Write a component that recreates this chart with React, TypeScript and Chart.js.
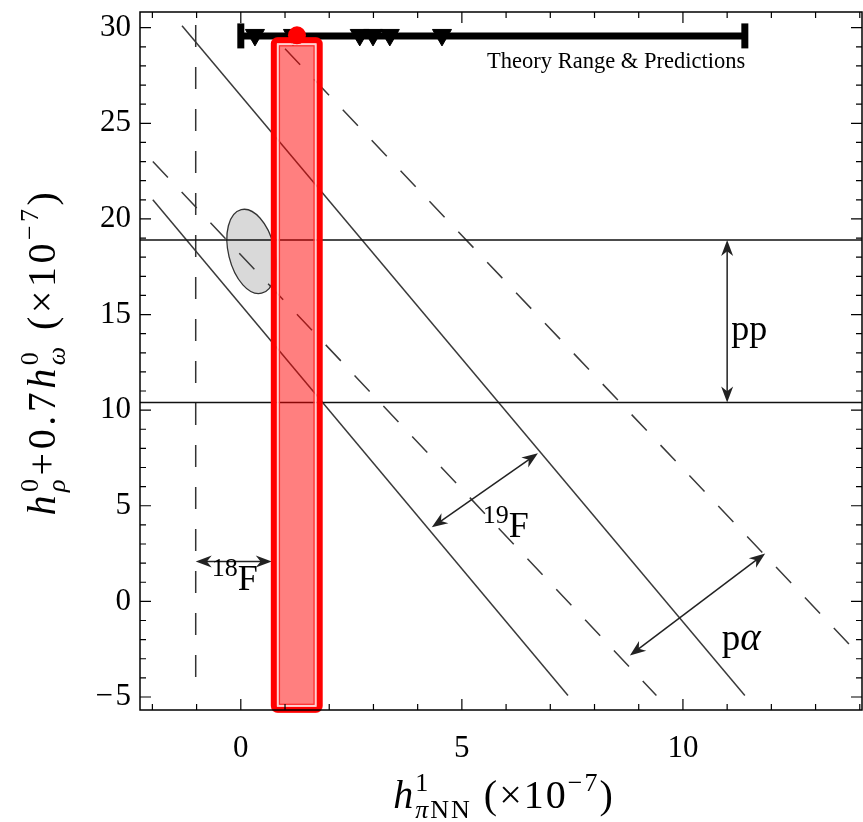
import React, { useEffect, useRef } from "react";
import { Chart, registerables } from "chart.js";

Chart.register(...registerables);

// ---- axis ranges & ticks ----
const X_MIN = -2.28;
const X_MAX = 14.05;
const Y_MIN = -5.68;
const Y_MAX = 30.82;
const xMajorTicks = [0, 5, 10];
const xMinorTicks = [-2, -1, 1, 2, 3, 4, 6, 7, 8, 9, 11, 12, 13, 14];
const yMajorTicks = [-5, 0, 5, 10, 15, 20, 25, 30];
const yMinorTicks = [-4, -3, -2, -1, 1, 2, 3, 4, 6, 7, 8, 9, 11, 12, 13, 14, 16, 17, 18, 19, 21, 22, 23, 24, 26, 27, 28, 29];

// ---- constraint lines ----
const ppLimits = [18.9, 10.4];
const f18Limit = [
  { x: -1.02, y: -3.95 },
  { x: -1.02, y: 30.6 },
];
const f19Lower = [
  { x: -1.99, y: 21.0 },
  { x: 7.4, y: -4.92 },
];
const f19Upper = [
  { x: -1.33, y: 30.1 },
  { x: 11.4, y: -4.92 },
];
const pAlphaLower = [
  { x: -1.99, y: 23.0 },
  { x: 9.4, y: -4.92 },
];
const pAlphaUpper = [
  { x: 1.0, y: 28.9 },
  { x: 14.0, y: -2.83 },
];

// ---- theory range & predictions ----
const theoryRange = [
  { x: 0, y: 29.57 },
  { x: 11.4, y: 29.57 },
];
const predictionsX = [0.32, 1.18, 2.69, 2.99, 3.37, 4.55];
const predictionY = 29.62;

// ---- measurement band (red) ----
const bandX = [0.68, 1.85];
const bandY = [-5.83, 29.5];
const bandPoint = { x: 1.27, y: 29.6 };

// ---- error ellipse ----
const ellipseCenter = { x: 0.24, y: 18.3 };
const ellipseSemiAxes = { x: 0.52, y: 2.25 };
const ellipseTilt = -0.24;

// ---- arrows ----
const ppArrow = [
  { x: 11.0, y: 18.9 },
  { x: 11.0, y: 10.4 },
];
const f18Arrow = [
  { x: -1.02, y: 2.09 },
  { x: 0.7, y: 2.09 },
];
const f19Arrow = [
  { x: 4.32, y: 3.87 },
  { x: 6.72, y: 7.74 },
];
const pAlphaArrow = [
  { x: 8.8, y: -2.83 },
  { x: 11.86, y: 2.51 },
];

// ---- labels (anchor = left baseline) ----
const labelPP = { x: 11.09, y: 13.66 };
const labelF19 = { x: 5.47, y: 3.35 };
const labelF18 = { x: -0.66, y: 0.58 };
const labelPA = { x: 10.88, y: -2.56 };
const labelTheory = { x: 5.57, y: 27.9 };

const SERIF = "'Liberation Serif', 'DejaVu Serif', serif";

type Part = { t: string; size: number; italic?: boolean; dy?: number; stack?: boolean };

function richWidth(ctx: CanvasRenderingContext2D, parts: Part[]) {
  let x = 0;
  let lastStart = 0;
  let lastW = 0;
  for (const p of parts) {
    ctx.font = `${p.italic ? "italic " : ""}${p.size}px ${SERIF}`;
    const w = ctx.measureText(p.t).width;
    if (p.stack) {
      x = lastStart + Math.max(lastW, w);
      lastW = Math.max(lastW, w);
    } else {
      lastStart = x;
      lastW = w;
      x += w;
    }
  }
  return x;
}

function drawRich(ctx: CanvasRenderingContext2D, parts: Part[], x0: number, y0: number, align: "left" | "center") {
  const total = richWidth(ctx, parts);
  let x = align === "center" ? x0 - total / 2 : x0;
  let lastStart = x;
  let lastW = 0;
  ctx.textAlign = "left";
  ctx.textBaseline = "alphabetic";
  ctx.fillStyle = "#000";
  for (const p of parts) {
    ctx.font = `${p.italic ? "italic " : ""}${p.size}px ${SERIF}`;
    const w = ctx.measureText(p.t).width;
    if (p.stack) {
      ctx.fillText(p.t, lastStart, y0 + (p.dy || 0));
      x = lastStart + Math.max(lastW, w);
      lastW = Math.max(lastW, w);
    } else {
      ctx.fillText(p.t, x, y0 + (p.dy || 0));
      lastStart = x;
      lastW = w;
      x += w;
    }
  }
}

function arrowHead(ctx: CanvasRenderingContext2D, tipX: number, tipY: number, ang: number) {
  const L = 16;
  const W = 6;
  const bx = tipX - L * Math.cos(ang);
  const by = tipY - L * Math.sin(ang);
  const nx = -Math.sin(ang);
  const ny = Math.cos(ang);
  const mx = tipX - L * 0.7 * Math.cos(ang);
  const my = tipY - L * 0.7 * Math.sin(ang);
  ctx.beginPath();
  ctx.moveTo(tipX, tipY);
  ctx.lineTo(bx + nx * W, by + ny * W);
  ctx.lineTo(mx, my);
  ctx.lineTo(bx - nx * W, by - ny * W);
  ctx.closePath();
  ctx.fill();
}

const decorPlugin = {
  id: "decor",
  beforeDatasetsDraw(chart: any) {
    const { ctx, scales } = chart;
    const xs = scales.x;
    const ys = scales.y;
    const cx = xs.getPixelForValue(ellipseCenter.x);
    const cy = ys.getPixelForValue(ellipseCenter.y);
    const rx = Math.abs(xs.getPixelForValue(ellipseCenter.x + ellipseSemiAxes.x) - cx);
    const ry = Math.abs(ys.getPixelForValue(ellipseCenter.y + ellipseSemiAxes.y) - cy);
    ctx.save();
    ctx.beginPath();
    ctx.ellipse(cx, cy, rx, ry, ellipseTilt, 0, Math.PI * 2);
    ctx.fillStyle = "#d9d9d9";
    ctx.fill();
    ctx.lineWidth = 1.3;
    ctx.strokeStyle = "#333";
    ctx.stroke();
    ctx.restore();
  },
  afterDatasetsDraw(chart: any) {
    const { ctx, scales, chartArea } = chart;
    const xs = scales.x;
    const ys = scales.y;
    const px = (v: number) => xs.getPixelForValue(v);
    const py = (v: number) => ys.getPixelForValue(v);

    ctx.save();
    // arrows
    ctx.strokeStyle = "#222";
    ctx.fillStyle = "#222";
    ctx.lineWidth = 1.5;
    for (const a of [ppArrow, f18Arrow, f19Arrow, pAlphaArrow]) {
      const x1 = px(a[0].x), y1 = py(a[0].y), x2 = px(a[1].x), y2 = py(a[1].y);
      const ang = Math.atan2(y2 - y1, x2 - x1);
      ctx.beginPath();
      ctx.moveTo(x1 + 8 * Math.cos(ang), y1 + 8 * Math.sin(ang));
      ctx.lineTo(x2 - 8 * Math.cos(ang), y2 - 8 * Math.sin(ang));
      ctx.stroke();
      arrowHead(ctx, x2, y2, ang);
      arrowHead(ctx, x1, y1, ang + Math.PI);
    }

    // texts
    drawRich(ctx, [{ t: "pp", size: 36 }], px(labelPP.x), py(labelPP.y), "left");
    drawRich(ctx, [{ t: "19", size: 26, dy: -14 }, { t: "F", size: 36 }], px(labelF19.x), py(labelF19.y), "left");
    drawRich(ctx, [{ t: "18", size: 26, dy: -14 }, { t: "F", size: 36 }], px(labelF18.x), py(labelF18.y), "left");
    drawRich(ctx, [{ t: "p", size: 37 }, { t: "\u03B1", size: 39, italic: true }], px(labelPA.x), py(labelPA.y), "left");
    drawRich(ctx, [{ t: "Theory Range & Predictions", size: 22.5 }], px(labelTheory.x), py(labelTheory.y), "left");

    // red measurement band
    const L = px(bandX[0]), R = px(bandX[1]), T = py(bandY[1]), B = py(bandY[0]);
    ctx.fillStyle = "rgba(255,0,0,0.5)";
    ctx.beginPath();
    ctx.roundRect(L, T, R - L, B - T, 6);
    ctx.fill();
    ctx.strokeStyle = "#ff0000";
    ctx.lineWidth = 6;
    ctx.beginPath();
    ctx.roundRect(L + 3, T + 3, R - L - 6, B - T - 6, 4);
    ctx.stroke();
    ctx.strokeStyle = "rgba(255,215,215,0.95)";
    ctx.lineWidth = 2;
    ctx.strokeRect(L + 7, T + 7, R - L - 14, B - T - 14);
    ctx.strokeStyle = "#ff2a2a";
    ctx.lineWidth = 1.2;
    ctx.strokeRect(L + 8.6, T + 8.6, R - L - 17.2, B - T - 17.2);

    // central point
    ctx.fillStyle = "#ff0000";
    ctx.beginPath();
    ctx.arc(px(bandPoint.x), py(bandPoint.y), 9, 0, Math.PI * 2);
    ctx.fill();

    // frame
    const { left, right, top, bottom } = chartArea;
    ctx.strokeStyle = "#000";
    ctx.lineWidth = 1.5;
    ctx.strokeRect(left, top, right - left, bottom - top);
    ctx.lineWidth = 1.2;
    ctx.beginPath();
    const tickX = (v: number, len: number) => {
      const x = px(v);
      ctx.moveTo(x, bottom);
      ctx.lineTo(x, bottom - len);
      ctx.moveTo(x, top);
      ctx.lineTo(x, top + len);
    };
    const tickY = (v: number, len: number) => {
      const y = py(v);
      ctx.moveTo(left, y);
      ctx.lineTo(left + len, y);
      ctx.moveTo(right, y);
      ctx.lineTo(right - len, y);
    };
    xMajorTicks.forEach((v) => tickX(v, 11));
    xMinorTicks.forEach((v) => tickX(v, 6));
    yMajorTicks.forEach((v) => tickY(v, 11));
    yMinorTicks.forEach((v) => tickY(v, 6));
    ctx.stroke();

    // axis titles
    const xTitle: Part[] = [
      { t: "h", size: 40, italic: true },
      { t: "1", size: 26, dy: -17 },
      { t: "\u03C0", size: 26, italic: true, dy: 10, stack: true },
      { t: "NN", size: 26, dy: 10 },
      { t: " (\u00D710", size: 40 },
      { t: "\u22127", size: 26, dy: -17 },
      { t: ")", size: 40 },
    ];
    (ctx as any).letterSpacing = "2px";
    drawRich(ctx, xTitle, 504, 808, "center");

    const yTitle: Part[] = [
      { t: "h", size: 40, italic: true },
      { t: "0", size: 26, dy: -17 },
      { t: "\u03C1", size: 26, italic: true, dy: 10, stack: true },
      { t: "+0.7", size: 40 },
      { t: "h", size: 40, italic: true },
      { t: "0", size: 26, dy: -17 },
      { t: "\u03C9", size: 26, italic: true, dy: 10, stack: true },
      { t: " (\u00D710", size: 40 },
      { t: "\u22127", size: 26, dy: -17 },
      { t: ")", size: 40 },
    ];
    (ctx as any).letterSpacing = "3.5px";
    ctx.translate(55, 352);
    ctx.rotate(-Math.PI / 2);
    drawRich(ctx, yTitle, 0, 0, "center");
    (ctx as any).letterSpacing = "0px";
    ctx.restore();
  },
};

const fmt = (v: number) => (v < 0 ? "\u2212\u200A" + Math.abs(v) : String(v));

export default function App() {
  const ref = useRef<HTMLCanvasElement | null>(null);
  useEffect(() => {
    if (!ref.current) return;
    const line = (data: any[], dashed: boolean, color = "#3a3a3a", width = 1.5) => ({
      type: "line",
      data,
      borderColor: color,
      borderWidth: width,
      borderDash: dashed ? [22, 20] : [],
      pointRadius: 0,
      showLine: true,
      fill: false,
    });
    const chart = new Chart(ref.current, {
      type: "scatter",
      data: {
        datasets: [
          line([{ x: X_MIN, y: ppLimits[0] }, { x: X_MAX, y: ppLimits[0] }], false, "#111", 1.5),
          line([{ x: X_MIN, y: ppLimits[1] }, { x: X_MAX, y: ppLimits[1] }], false, "#111", 1.5),
          line(f18Limit, true, "#333", 1.5),
          line(f19Lower, false),
          line(f19Upper, false),
          line(pAlphaLower, true),
          line(pAlphaUpper, true),
          {
            type: "line",
            data: theoryRange,
            borderColor: "#000",
            borderWidth: 7,
            showLine: true,
            pointStyle: "line",
            rotation: 90,
            pointRadius: 12.5,
            pointBorderWidth: 7,
            pointBorderColor: "#000",
            clip: false,
          },
          {
            type: "scatter",
            data: predictionsX.map((x) => ({ x, y: predictionY })),
            pointStyle: "triangle",
            rotation: 180,
            pointRadius: 11,
            backgroundColor: "#000",
            borderColor: "#000",
            borderWidth: 1,
            clip: false,
          },
        ] as any,
      },
      options: {
        animation: false,
        responsive: false,
        devicePixelRatio: 1,
        events: [],
        layout: { autoPadding: false, padding: { top: 12, right: 1, left: 0, bottom: 0 } },
        plugins: { legend: { display: false }, tooltip: { enabled: false } },
        scales: {
          x: {
            type: "linear",
            min: X_MIN,
            max: X_MAX,
            afterBuildTicks: (s: any) => {
              s.ticks = xMajorTicks.map((v) => ({ value: v }));
            },
            afterFit: (s: any) => {
              s.height = 112;
              s.paddingLeft = 0;
              s.paddingRight = 0;
            },
            grid: { display: false, drawTicks: false },
            border: { display: false },
            ticks: {
              autoSkip: false,
              maxRotation: 0,
              padding: 20,
              color: "#000",
              font: { family: SERIF, size: 31 },
              callback: (v: any) => fmt(Number(v)),
            },
          },
          y: {
            type: "linear",
            min: Y_MIN,
            max: Y_MAX,
            afterBuildTicks: (s: any) => {
              s.ticks = yMajorTicks.map((v) => ({ value: v }));
            },
            afterFit: (s: any) => {
              s.width = 140;
              s.paddingTop = 0;
              s.paddingBottom = 0;
            },
            grid: { display: false, drawTicks: false },
            border: { display: false },
            ticks: {
              autoSkip: false,
              padding: 9,
              color: "#000",
              font: { family: SERIF, size: 31 },
              callback: (v: any) => fmt(Number(v)),
            },
          },
        },
      } as any,
      plugins: [decorPlugin],
    });
    return () => chart.destroy();
  }, []);
  return (
    <div style={{ position: "absolute", left: 0, top: 0, width: 863, height: 822, background: "#fff" }}>
      <canvas ref={ref} width={863} height={822} style={{ display: "block" }} />
    </div>
  );
}
